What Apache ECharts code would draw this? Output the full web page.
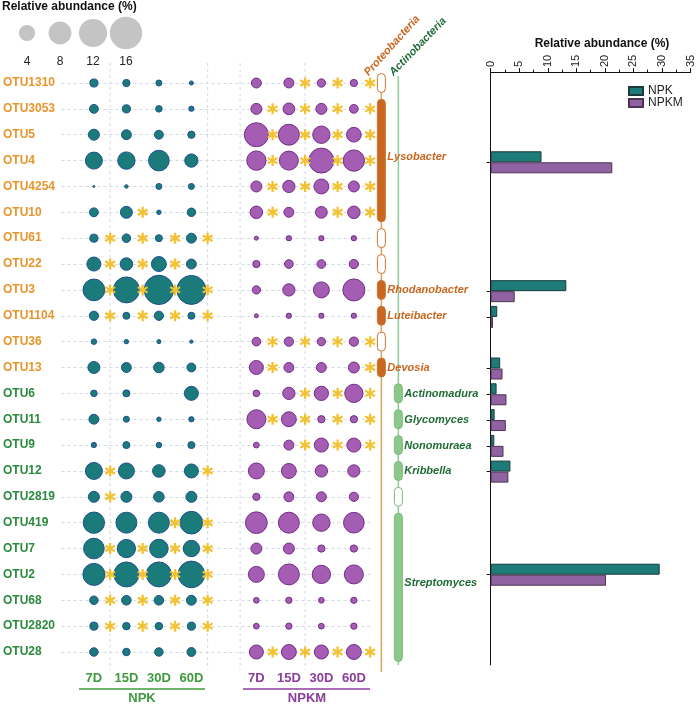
<!DOCTYPE html>
<html><head><meta charset="utf-8">
<script src="https://cdn.jsdelivr.net/npm/echarts@6/dist/echarts.min.js"></script>
<style>html,body{margin:0;padding:0;background:#fff}#c{width:696px;height:704px}</style>
</head><body><div id="c"></div>
<script>
// ---------- data ----------
const rows = ['OTU1310','OTU3053','OTU5','OTU4','OTU4254','OTU10','OTU61','OTU22','OTU3','OTU1104','OTU36','OTU13',
  'OTU6','OTU11','OTU9','OTU12','OTU2819','OTU419','OTU7','OTU2','OTU68','OTU2820','OTU28'];
const timeLabels = ['7D','15D','30D','60D'];
const treatments = ['NPK','NPKM'];
// relative abundance (%) per OTU at 7D,15D,30D,60D
const npk = [
  [1.0,0.8,0.55,0.25],[1.2,1.0,0.65,0.38],[1.85,1.5,1.2,0.8],[4.4,4.6,6.5,2.7],[0.06,0.19,0.55,0.55],
  [1.2,2.2,0.3,1.1],[1.0,1.1,0.75,1.5],[3.0,2.4,3.4,1.5],[7.2,10.3,13.1,12.8],[1.3,0.75,1.3,0.75],
  [0.46,0.3,0.25,0.17],[2.2,1.5,1.7,1.2],[0.65,0.75,0,3.0],[1.5,0.55,0.3,0.38],[0.38,0.75,0.46,0.75],
  [4.4,3.9,2.4,3.0],[1.85,1.85,1.7,1.85],[6.9,6.7,6.7,7.8],[6.5,5.1,5.3,4.1],[7.4,9.5,9.5,10.8],
  [1.1,1.4,1.4,1.5],[1.0,0.85,0.85,1.0],[1.1,0.85,1.1,1.2]
];
const npkm = [
  [1.5,1.5,1.05,0.8],[1.85,2.1,1.85,1.15],[8.8,6.7,4.6,3.3],[5.7,5.5,9.5,6.9],[1.85,2.3,3.4,1.85],
  [2.4,1.5,2.1,2.4],[0.25,0.38,0.38,0.38],[0.8,1.15,1.15,1.3],[1.05,2.3,3.9,7.4],[0.25,0.38,0.38,0.38],
  [1.15,1.3,1.05,1.3],[3.0,1.5,1.5,1.85],[0.68,2.3,3.1,5.1],[5.5,3.4,0.8,0.8],[0.5,1.5,3.0,3.0],
  [3.9,3.4,2.3,2.3],[0.8,1.5,1.5,1.3],[7.2,6.7,4.6,6.5],[1.85,1.85,0.8,0.8],[3.9,6.7,5.1,5.5],
  [0.5,0.6,0.5,0.6],[0.5,0.6,0.5,0.6],[3.0,3.4,3.0,3.4]
];
// significance marks (1 = asterisk after that time point)
const npkSig = [
  [0,0,0,0],[0,0,0,0],[0,0,0,0],[0,0,0,0],[0,0,0,0],[0,1,0,0],[1,1,1,1],[1,1,1,0],[1,1,1,1],[1,1,1,1],
  [0,0,0,0],[0,0,0,0],[0,0,0,0],[0,0,0,0],[0,0,0,0],[1,0,0,1],[1,0,0,0],[0,0,1,1],[1,1,1,1],[1,1,1,1],
  [1,1,1,1],[1,1,1,1],[0,0,0,0]
];
const npkmSig = [
  [0,1,1,1],[1,1,1,1],[1,1,1,1],[1,1,1,1],[1,1,1,1],[1,0,1,1],[0,0,0,0],[0,0,0,0],[0,0,0,0],[0,0,0,0],
  [1,1,1,1],[1,0,0,1],[0,1,1,1],[1,1,1,1],[0,1,1,1],[0,0,0,0],[0,0,0,0],[0,0,0,0],[0,0,0,0],[0,0,0,0],
  [0,0,0,0],[0,0,0,0],[1,1,1,1]
];
const legendSizes = [4, 8, 12, 16];
// taxonomy blocks
const taxPhylum = ['Proteobacteria','Proteobacteria','Proteobacteria','Proteobacteria','Proteobacteria','Proteobacteria','Proteobacteria','Proteobacteria',
  'Actinobacteria','Actinobacteria','Actinobacteria','Actinobacteria','Actinobacteria','Actinobacteria'];
const taxGenus = ['','Lysobacter','','','Rhodanobacter','Luteibacter','','Devosia','Actinomadura','Glycomyces','Nonomuraea','Kribbella','','Streptomyces'];
const taxFirst = ['OTU1310','OTU3053','OTU61','OTU22','OTU3','OTU1104','OTU36','OTU13','OTU6','OTU11','OTU9','OTU12','OTU2819','OTU419'];
const taxLast  = ['OTU1310','OTU10','OTU61','OTU22','OTU3','OTU1104','OTU36','OTU13','OTU6','OTU11','OTU9','OTU12','OTU2819','OTU28'];
const phyla = ['Proteobacteria','Actinobacteria'];
// genus-level relative abundance (%)
const genera  = ['Lysobacter','Rhodanobacter','Luteibacter','Devosia','Actinomadura','Glycomyces','Nonomuraea','Kribbella','Streptomyces'];
const barRow  = ['OTU4','OTU3','OTU1104','OTU13','OTU6','OTU11','OTU9','OTU12','OTU2'];
const npkBar  = [8.9, 13.25, 1.15, 1.66, 1.03, 0.69, 0.63, 3.45, 29.6];
const npkmBar = [21.3, 4.2, 0.4, 2.07, 2.76, 2.65, 2.24, 3.1, 20.2];

// ---------- styles ----------
const FONT = '"Liberation Sans", Arial, sans-serif';
const C = {
  orange: '#e8952c', green: '#2b8a3e', teal: '#1b7b7b', tealBorder: '#1f4f8f',
  purple: '#a55cb3', purpleBorder: '#6f2f86', star: '#f3c232',
  pOrange: '#c9661f', aGreen: '#8cc887', aGreenDark: '#1f6b35',
  npkLbl: '#3d9b3d', npkmLbl: '#8b3d9c', grid: '#d3d9e4'
};
const STAR = 'path://M-2,-10L2,-10L2,10L-2,10ZM7.66,-6.73L9.66,-3.27L-7.66,6.73L-9.66,3.27ZM9.66,3.27L7.66,6.73L-9.66,-3.27L-7.66,-6.73Z';
const sizeOf = v => 8.1 * Math.sqrt(v);

const rowPhylum = rows.map((r, ri) => {
  for (let i = 0; i < taxFirst.length; i++) {
    const a = rows.indexOf(taxFirst[i]), b = rows.indexOf(taxLast[i]);
    if (ri >= a && ri <= b) return taxPhylum[i];
  }
  return '';
});

// ---------- series data ----------
const NPKM_OFFSET = 5;
const bubNpk = [], bubNpkm = [], starNpk = [], starNpkm = [];
rows.forEach((r, ri) => {
  for (let t = 0; t < 4; t++) {
    if (npk[ri][t] > 0) bubNpk.push([t, ri, npk[ri][t]]);
    if (npkm[ri][t] > 0) bubNpkm.push([t + NPKM_OFFSET, ri, npkm[ri][t]]);
    if (npkSig[ri][t]) starNpk.push([t + 0.5, ri]);
    if (npkmSig[ri][t]) starNpkm.push([t + NPKM_OFFSET + 0.5, ri]);
  }
});
const barNpkData = rows.map(r => { const k = barRow.indexOf(r); return k >= 0 ? npkBar[k] : '-'; });
const barNpkmData = rows.map(r => { const k = barRow.indexOf(r); return k >= 0 ? npkmBar[k] : '-'; });
const barRowIdx = barRow.map(r => rows.indexOf(r));

// ---------- layout ----------
const COL0 = 93, COLW = 32.6;           // pixel centre of first column, column pitch
const XMIN = -1, XMAX = 8.6;
const gLeft = COL0 + XMIN * COLW, gRight = 696 - (COL0 + XMAX * COLW);
const ROW0 = 83, ROWN = 652;
const band = (ROWN - ROW0) / (rows.length - 1);

const chart = echarts.init(document.getElementById('c'), null, {renderer: 'canvas'});
chart.setOption({
  animation: false,
  backgroundColor: '#fff',
  textStyle: {fontFamily: FONT},
  grid: [
    {left: gLeft, right: gRight, top: ROW0, bottom: 704 - ROWN},
    {left: 490.7, right: 3.3, top: ROW0 - band / 2 + 2, bottom: 704 - (ROWN + band / 2)},
    {left: 10.5, width: 132, top: 25, height: 16}
  ],
  xAxis: [
    {gridIndex: 0, type: 'value', min: XMIN, max: XMAX, interval: 1,
      axisLine: {show: false}, axisTick: {show: false}, splitLine: {show: false},
      axisLabel: {margin: 20, fontSize: 13, fontWeight: 'bold', fontFamily: FONT,
        formatter: v => { v = Number(v); if (!Number.isInteger(v)) return '';
          if (v >= 0 && v <= 3) return timeLabels[v];
          if (v >= NPKM_OFFSET && v <= NPKM_OFFSET + 3) return timeLabels[v - NPKM_OFFSET]; return ''; },
        color: v => Number(v) < 4 ? C.npkLbl : C.npkmLbl}},
    {gridIndex: 1, type: 'value', position: 'top', min: 0, max: 35, interval: 5,
      axisLine: {show: true, lineStyle: {color: '#111', width: 1}},
      axisTick: {show: true, length: 4, lineStyle: {color: '#111'}},
      minorTick: {show: true, splitNumber: 2, length: 2.5, lineStyle: {color: '#111'}},
      splitLine: {show: false},
      axisLabel: {rotate: -90, margin: 5, fontSize: 11, color: '#222', fontFamily: FONT}},
    {gridIndex: 2, type: 'category', data: legendSizes.map(String),
      axisLine: {show: false}, axisTick: {show: false},
      axisLabel: {margin: 15, fontSize: 12, color: '#222', fontFamily: FONT}}
  ],
  yAxis: [
    {gridIndex: 0, type: 'category', data: rows, inverse: true, boundaryGap: false,
      axisLine: {show: false}, axisTick: {show: false},
      splitLine: {show: true, interval: 0, lineStyle: {type: [3, 3], color: C.grid, width: 1}},
      axisLabel: {interval: 0, align: 'left', margin: gLeft - 2, fontSize: 12, fontWeight: 'bold', fontFamily: FONT,
        color: (v, i) => rowPhylum[rows.indexOf(v)] === 'Actinobacteria' ? C.green : C.orange}},
    {gridIndex: 1, type: 'category', data: rows, inverse: true,
      axisLine: {show: true, lineStyle: {color: '#111', width: 1}},
      axisTick: {show: true, alignWithLabel: true, length: 4, interval: i => barRowIdx.indexOf(i) >= 0, lineStyle: {color: '#111'}},
      axisLabel: {show: false}, splitLine: {show: false}},
    {gridIndex: 2, type: 'value', min: 0, max: 1, show: false}
  ],
  legend: {data: treatments, orient: 'vertical', left: 623, top: 80, itemWidth: 14, itemHeight: 8, itemGap: 0,
    icon: 'rect', textStyle: {fontSize: 12, lineHeight: 12, color: '#222', fontFamily: FONT}},
  series: [
    // vertical guide lines
    {type: 'custom', xAxisIndex: 0, yAxisIndex: 0, z: 1, silent: true,
      data: [[0.5, 0], [3.5, 0], [4.5, 0], [6.5, 0]], encode: {x: 0, y: 1},
      renderItem: (p, api) => {
        const x = api.coord([api.value(0), 0])[0];
        const y0 = api.coord([0, 0])[1] - 20, y1 = api.coord([0, rows.length - 1])[1] + 18;
        return {type: 'line', shape: {x1: x, y1: y0, x2: x, y2: y1}, style: {stroke: C.grid, lineDash: [3, 3], lineWidth: 1}};
      }},
    {name: 'NPK-bubble', type: 'scatter', xAxisIndex: 0, yAxisIndex: 0, z: 3, data: bubNpk,
      symbolSize: v => sizeOf(v[2]), itemStyle: {color: C.teal, borderColor: C.tealBorder, borderWidth: 1, opacity: 1}},
    {name: 'NPKM-bubble', type: 'scatter', xAxisIndex: 0, yAxisIndex: 0, z: 3, data: bubNpkm,
      symbolSize: v => sizeOf(v[2]), itemStyle: {color: C.purple, borderColor: C.purpleBorder, borderWidth: 1, opacity: 1}},
    {name: 'sig', type: 'scatter', xAxisIndex: 0, yAxisIndex: 0, z: 4, data: starNpk.concat(starNpkm),
      symbol: STAR, symbolSize: 11, itemStyle: {color: C.star, opacity: 1}},
    // phylum lines and labels
    {type: 'custom', xAxisIndex: 0, yAxisIndex: 0, z: 2, silent: true,
      data: phyla.map((p, i) => [i, 0]), encode: {x: 0, y: 1},
      renderItem: (p, api) => {
        const isP = phyla[p.dataIndex] === 'Proteobacteria';
        const cx = api.coord([XMAX, 0])[0] + (isP ? 8 : 25);
        const yTop = api.coord([0, 0])[1];
        const yBot = api.coord([0, rows.length - 1])[1];
        return {type: 'group', children: [
          {type: 'line', shape: {x1: cx, y1: yTop - 7, x2: cx, y2: yBot + (isP ? 20 : 13)},
            style: {stroke: isP ? '#e0a35a' : '#93c994', lineWidth: 1.5}},
          {type: 'text', x: cx + (isP ? -11 : -3), y: yTop - 5, rotation: (isP ? 48 : 46) * Math.PI / 180,
            style: {text: phyla[p.dataIndex], font: 'italic bold 11px ' + FONT, fill: isP ? C.pOrange : C.aGreenDark,
              align: 'left', verticalAlign: 'bottom', textAlign: 'left', textVerticalAlign: 'bottom'}}
        ]};
      }},
    // genus blocks
    {type: 'custom', xAxisIndex: 0, yAxisIndex: 0, z: 3, silent: true,
      data: taxGenus.map((g, i) => [0, rows.indexOf(taxFirst[i]), rows.indexOf(taxLast[i])]), encode: {x: 0, y: [1, 2]},
      renderItem: (p, api) => {
        const i = p.dataIndex;
        const isP = taxPhylum[i] === 'Proteobacteria';
        const cx = api.coord([XMAX, 0])[0] + (isP ? 8 : 25);
        const yA = api.coord([0, api.value(1)])[1] - 9.5;
        const yB = api.coord([0, api.value(2)])[1] + 9.5;
        const filled = taxGenus[i] !== '';
        const fillC = isP ? C.pOrange : C.aGreen;
        const strokeC = isP ? '#c9762f' : '#7dbb78';
        const ch = [{type: 'rect', shape: {x: cx - 4, y: yA, width: 8, height: yB - yA, r: 4},
          style: {fill: filled ? fillC : '#fff', stroke: strokeC, lineWidth: 1}}];
        if (filled) {
          const multi = api.value(2) > api.value(1);
          ch.push({type: 'text', x: cx + 6, y: (yA + yB) / 2 + (multi ? -4 : 0.5),
            style: {text: taxGenus[i], font: 'italic bold 11px ' + FONT, fill: isP ? C.pOrange : C.aGreenDark,
              align: 'left', verticalAlign: 'middle', textAlign: 'left', textVerticalAlign: 'middle'}});
        }
        return {type: 'group', children: ch};
      }},
    // bars
    {name: 'NPK', type: 'bar', xAxisIndex: 1, yAxisIndex: 1, data: barNpkData, barWidth: 11, barGap: '0%',
      itemStyle: {color: '#1d7c79', borderColor: '#1b3b3b', borderWidth: 1}},
    {name: 'NPKM', type: 'bar', xAxisIndex: 1, yAxisIndex: 1, data: barNpkmData, barWidth: 11, barGap: '0%',
      itemStyle: {color: '#9162a2', borderColor: '#4b3453', borderWidth: 1}},
    // size legend
    {type: 'scatter', xAxisIndex: 2, yAxisIndex: 2, silent: true,
      data: legendSizes.map((s, i) => [i, 0.5, s]), symbolSize: v => sizeOf(v[2]),
      itemStyle: {color: '#c4c4c4', opacity: 1}}
  ],
  graphic: [
    {type: 'text', left: 2, top: 1, style: {text: 'Relative abundance (%)', font: 'bold 12px ' + FONT, fill: '#111'}},
    {type: 'text', x: 602, y: 44, style: {text: 'Relative abundance (%)', font: 'bold 12px ' + FONT, fill: '#111',
      align: 'center', verticalAlign: 'middle', textAlign: 'center', textVerticalAlign: 'middle'}},
    {type: 'line', shape: {x1: 79, y1: 689, x2: 205, y2: 689}, style: {stroke: C.npkLbl, lineWidth: 1.5}},
    {type: 'line', shape: {x1: 243, y1: 689, x2: 370, y2: 689}, style: {stroke: C.npkmLbl, lineWidth: 1.5}},
    {type: 'text', x: 142, y: 698, style: {text: treatments[0], font: 'bold 13px ' + FONT, fill: C.npkLbl,
      align: 'center', verticalAlign: 'middle', textAlign: 'center', textVerticalAlign: 'middle'}},
    {type: 'text', x: 307, y: 698, style: {text: treatments[1], font: 'bold 13px ' + FONT, fill: C.npkmLbl,
      align: 'center', verticalAlign: 'middle', textAlign: 'center', textVerticalAlign: 'middle'}}
  ]
});
</script></body></html>
